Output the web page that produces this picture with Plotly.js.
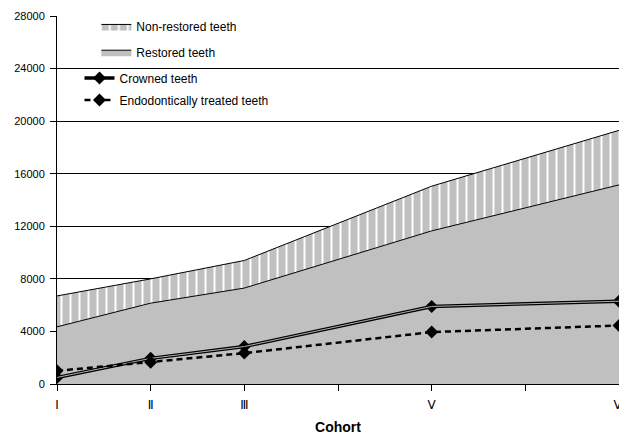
<!DOCTYPE html>
<html>
<head>
<meta charset="utf-8">
<script src="https://cdn.plot.ly/plotly-3.0.1.min.js"></script>
<style>
  html, body { margin: 0; padding: 0; background: #fff; }
  #chart { width: 619px; height: 445px; }
</style>
</head>
<body>
<div id="chart"></div>
<script>
// Cohort positions on the axis and their labels
const cohortPos = [0, 1, 2, 4, 6];
const tickPos = [0, 1, 2, 3, 4, 5, 6];
const tickLabels = ['Ⅰ', 'Ⅱ', 'Ⅲ', '', 'Ⅴ', '', 'Ⅵ'];

// Number of teeth per cohort
const nonRestored = [6700, 8000, 9400, 15050, 19300];
const restored = [4350, 6150, 7300, 11650, 15150];
const crowned = [500, 1950, 2850, 5900, 6300];
const endodontic = [1000, 1650, 2350, 3950, 4450];

const fontFam = 'Liberation Sans, Arial, sans-serif';

const traces = [
  {
    x: cohortPos, y: restored, name: 'Restored teeth',
    type: 'scatter', mode: 'lines', fill: 'tozeroy',
    fillcolor: '#c0c0c0', line: { color: '#000', width: 1 },
    legend: 'legend2', hoverinfo: 'skip'
  },
  {
    x: cohortPos, y: nonRestored, name: 'Non-restored teeth',
    type: 'scatter', mode: 'lines', fill: 'tonexty',
    fillcolor: '#c0c0c0',
    fillpattern: { shape: '|', bgcolor: '#c0c0c0', fgcolor: '#ffffff', size: 9, solidity: 0.22 },
    line: { color: '#000', width: 1 },
    legend: 'legend', hoverinfo: 'skip'
  },
  {
    x: cohortPos, y: crowned, name: 'Crowned teeth',
    type: 'scatter', mode: 'lines+markers',
    line: { color: '#000', width: 3.5 },
    marker: { symbol: 'diamond', size: 10, color: '#000' },
    legend: 'legend3'
  },
  {
    x: cohortPos, y: crowned, name: 'Crowned teeth highlight',
    type: 'scatter', mode: 'lines', showlegend: false,
    line: { color: '#b0b0b0', width: 1 }, hoverinfo: 'skip'
  },
  {
    x: cohortPos, y: endodontic, name: 'Endodontically treated teeth',
    type: 'scatter', mode: 'lines+markers',
    line: { color: '#000', width: 2.5, dash: '6px,4px' },
    marker: { symbol: 'diamond', size: 10, color: '#000' },
    legend: 'legend4'
  }
];

const legendBase = {
  bgcolor: 'rgba(0,0,0,0)', borderwidth: 0,
  font: { family: fontFam, size: 12, color: '#000' },
  xanchor: 'left', yanchor: 'top', itemwidth: 30
};

const layout = {
  width: 619, height: 445,
  margin: { l: 57, r: 0, t: 16, b: 61 },
  paper_bgcolor: '#fff', plot_bgcolor: '#fff',
  font: { family: fontFam, size: 11, color: '#000' },
  xaxis: {
    range: [0, 6], tickmode: 'array', tickvals: tickPos, ticktext: tickLabels,
    showgrid: false, zeroline: false, showline: true, linecolor: '#000', linewidth: 1,
    ticks: 'outside', ticklen: 6, tickcolor: '#000', ticklabelstandoff: 4,
    ticklabeloverflow: 'allow',
    tickfont: { family: 'DejaVu Sans, sans-serif', size: 12, color: '#000' },
    title: { text: '<b>Cohort</b>', font: { family: fontFam, size: 14, color: '#000' }, standoff: 10 }
  },
  yaxis: {
    range: [0, 28000], tickmode: 'linear', tick0: 0, dtick: 4000,
    tickformat: 'd', exponentformat: 'none',
    showgrid: true, gridcolor: '#000', gridwidth: 1, zeroline: false,
    showline: true, linecolor: '#000', linewidth: 1,
    ticks: 'outside', ticklen: 6, tickcolor: '#000', ticklabelstandoff: 3,
    tickfont: { family: fontFam, size: 11, color: '#000' }
  },
  legend: Object.assign({}, legendBase, { x: 0.07, y: 1.011 }),
  legend2: Object.assign({}, legendBase, { x: 0.07, y: 0.941 }),
  legend3: Object.assign({}, legendBase, { x: 0.04, y: 0.871 }),
  legend4: Object.assign({}, legendBase, { x: 0.04, y: 0.811 }),
  showlegend: true
};

Plotly.newPlot('chart', traces, layout, { displayModeBar: false, staticPlot: true });
</script>
</body>
</html>
